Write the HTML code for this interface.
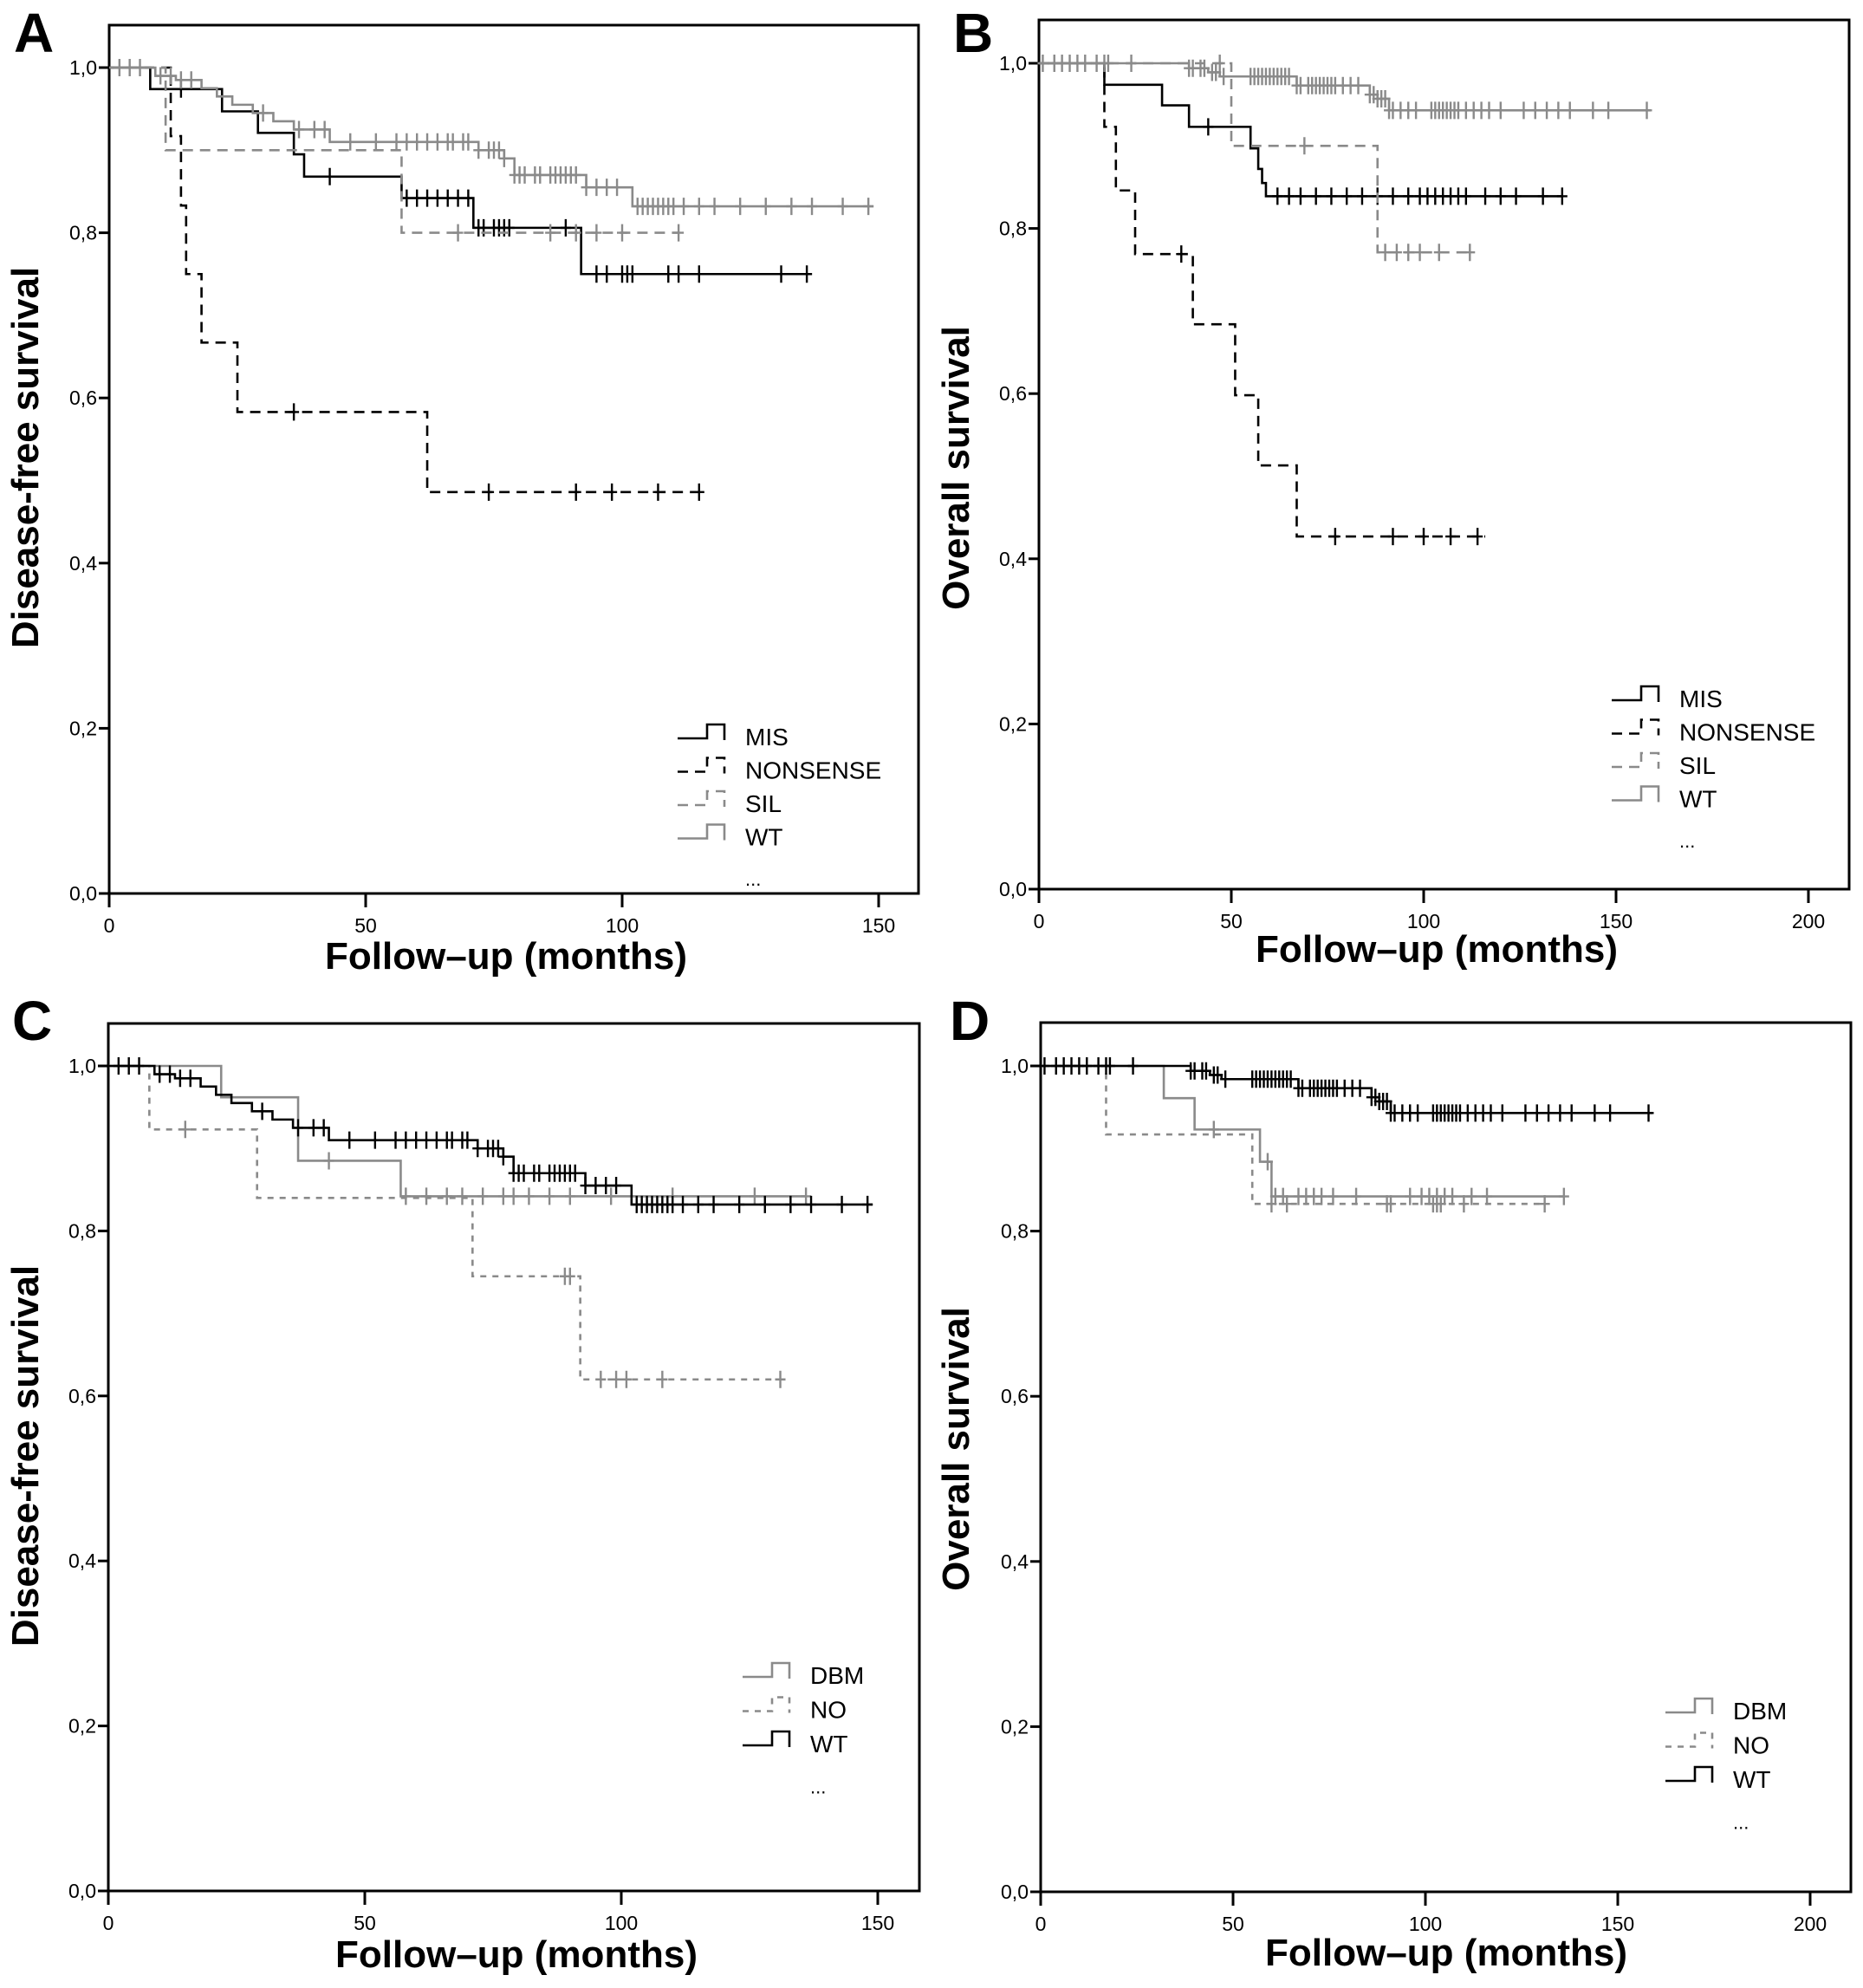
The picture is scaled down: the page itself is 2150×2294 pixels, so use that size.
<!DOCTYPE html>
<html><head><meta charset="utf-8"><style>
html,body{margin:0;padding:0;background:#fff}
svg{display:block;font-family:"Liberation Sans",Arial,sans-serif}
</style></head><body>
<svg id="fig" width="2150" height="2294" viewBox="0 0 2150 2294" xmlns="http://www.w3.org/2000/svg">
<rect width="2150" height="2294" fill="#fff"/>
</svg>
<script>
// ---------- DATA ----------
const aMisSteps = [[8,0.974],[22,0.947],[29,0.921],[36,0.895],[38,0.868],[57,0.842],[71,0.806],[92,0.75]];
const aMisCens = [14,43,58,60,62,64,66,68,70,72,73,75,76,77,78,89,95,97,100,101,102,109,111,115,131,136];
const aMisEnd = 137;
const aNonSteps = [[12,0.917],[14,0.833],[15,0.75],[18,0.667],[25,0.583],[62,0.486]];
const aNonCens = [36,74,91,98,107,115];
const aNonEnd = 115;
const aSilSteps = [[11,0.9],[57,0.8]];
const aSilCens = [68,86,91,95,100,111];
const aSilEnd = 111;
const aWtSteps = [[9,0.99],[13,0.985],[18,0.975],[21,0.965],[24,0.955],[28,0.945],[32,0.935],[36,0.925],[43,0.91],[72,0.90],[77,0.89],[79,0.87],[93,0.855],[102,0.832]];
const aWtCens = [2,4,6,10,12,14,16,30,37,40,42,47,52,56,58,60,62,64,66,67,69,70,72,74,75,76,77,79,80,81,83,84,86,87,88,89,90,91,93,95,97,99,103,104,105,106,107,108,109,110,112,115,118,123,128,133,137,143,148];
const aWtEnd = 149;
const bMisSteps = [[17,0.974],[32,0.949],[39,0.923],[55,0.897],[57,0.872],[58,0.855],[59,0.839]];
const bMisCens = [44,62,65,68,72,76,80,84,88,92,96,99,101,103,105,107,109,111,116,120,124,131,136];
const bMisEnd = 136;
const bNonSteps = [[17,0.923],[20,0.846],[25,0.769],[40,0.684],[51,0.598],[57,0.513],[67,0.427]];
const bNonCens = [37,77,92,100,107,114];
const bNonEnd = 116;
const bSilSteps = [[50,0.9],[88,0.771]];
const bSilCens = [47,69,90,93,96,99,104,112];
const bSilEnd = 112;
const wtOsSteps = [[39,0.994],[44,0.989],[47,0.984],[67,0.973],[86,0.962],[88,0.957],[91,0.943]];
const wtOsCens = [1,4,6,8,10,12,15,17,18,24,39,40,42,43,45,46,48,55,56,57,58,59,60,61,62,63,64,65,67,68,70,71,72,73,74,75,76,77,79,81,83,86,87,88,89,90,91,92,94,96,98,102,103,104,105,106,107,108,109,111,113,115,117,120,126,129,132,135,138,144,148,158];
const wtOsEnd = 159;
const cDbmSteps = [[22,0.962],[37,0.885],[57,0.842]];
const cDbmCens = [43,58,62,66,69,73,77,79,82,86,90,98,110,126,136];
const cDbmEnd = 136;
const cNoSteps = [[8,0.923],[29,0.84],[71,0.745],[92,0.62]];
const cNoCens = [15,89,90,96,99,101,108,131];
const cNoEnd = 131;
const dDbmSteps = [[32,0.961],[40,0.923],[57,0.884],[60,0.842]];
const dDbmCens = [45,59,61,63,67,69,71,73,76,82,96,99,101,103,105,107,112,116,136];
const dDbmEnd = 136;
const dNoSteps = [[17,0.917],[55,0.833]];
const dNoCens = [60,64,90,91,102,103,104,110,131];
const dNoEnd = 131;

const yTickVals = [0,0.2,0.4,0.6,0.8,1.0];
const yTickLabels = ["0,0","0,2","0,4","0,6","0,8","1,0"];
const xTicksShort = [0,50,100,150];
const xTicksLong = [0,50,100,150,200];

// ---------- DRAW ----------
const NS = "http://www.w3.org/2000/svg";
const svg = document.getElementById('fig');
function mk(tag, attrs, parent){
  const e = document.createElementNS(NS, tag);
  for (const k in attrs) e.setAttribute(k, attrs[k]);
  (parent||svg).appendChild(e);
  return e;
}
const GRAY = "#8a8a8a";

function survAt(steps, t){
  let s = 1;
  for (const st of steps){ if (st[0] <= t) s = st[1]; }
  return s;
}

function panel(cfg){
  const g = mk('g', {});
  
  
  const xs = m => cfg.L + m * cfg.ppm;
  const ys = v => cfg.B - v * (cfg.B - cfg.y1);
  const fr = mk('rect', {x:cfg.L, y:cfg.T, width:cfg.R-cfg.L, height:cfg.B-cfg.T, fill:'none', stroke:'#000', 'stroke-width':3}, g);
  
  
  yTickVals.forEach((v,i)=>{
    const y = ys(v);
    const tk = mk('line', {x1:cfg.L-12, x2:cfg.L, y1:y, y2:y, stroke:'#000','stroke-width':3}, g);
    
    
    const tx = mk('text', {x:cfg.L-14, y:y+8, 'font-size':23, 'text-anchor':'end', fill:'#000'}, g);
    tx.textContent = yTickLabels[i];
    
    
  });
  cfg.xt.forEach(v=>{
    const x = xs(v);
    const tk = mk('line', {x1:x, x2:x, y1:cfg.B, y2:cfg.B+16, stroke:'#000','stroke-width':3}, g);
    
    
    const tx = mk('text', {x:x, y:cfg.B+45, 'font-size':23, 'text-anchor':'middle', fill:'#000'}, g);
    tx.textContent = String(v);
    
    
  });
  const xt = mk('text', {x:cfg.xtx, y:cfg.xty, 'font-size':44, 'font-weight':'bold', 'text-anchor':'middle', fill:'#000'}, g);
  xt.textContent = 'Follow\u2013up (months)';
  
  
  const yt = mk('text', {x:0, y:0, 'font-size':44, 'font-weight':'bold', 'text-anchor':'middle', fill:'#000', transform:'translate('+cfg.ytx+','+cfg.yty+') rotate(-90)'}, g);
  yt.textContent = cfg.ytitle;
  
  
  const lt = mk('text', {x:cfg.lx, y:cfg.ly, 'font-size':64, 'font-weight':'bold', fill:'#000'}, g);
  lt.textContent = cfg.id;
  
  
  cfg.series.forEach(s=>{
    let d = 'M' + xs(0) + ' ' + ys(1);
    s.steps.forEach(st=>{
      d += ' H' + xs(st[0]) + ' V' + ys(st[1]);
    });
    d += ' H' + xs(s.end);
    const p = mk('path', {d:d, fill:'none', stroke:s.color, 'stroke-width':2.6, 'stroke-dasharray':s.dash||'none'}, g);
    
    
    s.cens.forEach(t=>{
      const x = xs(t), y = ys(survAt(s.steps, t));
      const c = mk('path', {d:'M'+x+' '+(y-10)+' V'+(y+10)+' M'+(x-6)+' '+y+' H'+(x+6), stroke:s.color, 'stroke-width':2.4, fill:'none'}, g);
      
      
    });
  });
  cfg.series.forEach((s,i)=>{
    const y = cfg.legY + i*cfg.legDy;
    const x0 = cfg.legX;
    const sym = mk('path', {d:'M'+x0+' '+(y+2)+' H'+(x0+34)+' V'+(y-14)+' H'+(x0+54)+' V'+(y+4), fill:'none', stroke:s.color, 'stroke-width':2.6, 'stroke-dasharray':s.dash||'none'}, g);
    
    
    const tx = mk('text', {x:x0+78, y:y+10, 'font-size':28, fill:'#000'}, g);
    tx.textContent = s.name;
    
    
  });
  const dots = mk('text', {x:cfg.legX+78, y:cfg.legY + cfg.series.length*cfg.legDy + 18, 'font-size':22, fill:'#000'}, g);
  dots.textContent = '...';
  
  
}

panel({id:'A', L:126, R:1060, T:29, B:1031, y1:78, ppm:5.92, xt:xTicksShort,
  ytitle:'Disease-free survival', xtx:584, xty:1118, ytx:44, yty:528, lx:16, ly:60,
  legX:782, legY:850, legDy:38.5,
  series:[
    {name:'MIS', steps:aMisSteps, cens:aMisCens, end:aMisEnd, color:'#000'},
    {name:'NONSENSE', steps:aNonSteps, cens:aNonCens, end:aNonEnd, color:'#000', dash:'12 8'},
    {name:'SIL', steps:aSilSteps, cens:aSilCens, end:aSilEnd, color:GRAY, dash:'12 8'},
    {name:'WT', steps:aWtSteps, cens:aWtCens, end:aWtEnd, color:GRAY}
  ]});
panel({id:'B', L:1199, R:2134, T:23, B:1026, y1:73, ppm:4.44, xt:xTicksLong,
  ytitle:'Overall survival', xtx:1658, xty:1110, ytx:1118, yty:540, lx:1100, ly:60,
  legX:1860, legY:806, legDy:38.5,
  series:[
    {name:'MIS', steps:bMisSteps, cens:bMisCens, end:bMisEnd, color:'#000'},
    {name:'NONSENSE', steps:bNonSteps, cens:bNonCens, end:bNonEnd, color:'#000', dash:'12 8'},
    {name:'SIL', steps:bSilSteps, cens:bSilCens, end:bSilEnd, color:GRAY, dash:'12 8'},
    {name:'WT', steps:wtOsSteps, cens:wtOsCens, end:wtOsEnd, color:GRAY}
  ]});
panel({id:'C', L:125, R:1061, T:1181, B:2182, y1:1230, ppm:5.92, xt:xTicksShort,
  ytitle:'Disease-free survival', xtx:596, xty:2270, ytx:44, yty:1680, lx:14, ly:1200,
  legX:857, legY:1933, legDy:39.5,
  series:[
    {name:'DBM', steps:cDbmSteps, cens:cDbmCens, end:cDbmEnd, color:GRAY},
    {name:'NO', steps:cNoSteps, cens:cNoCens, end:cNoEnd, color:GRAY, dash:'7 7'},
    {name:'WT', steps:aWtSteps, cens:aWtCens, end:aWtEnd, color:'#000'}
  ]});
panel({id:'D', L:1201, R:2136, T:1180, B:2183, y1:1230, ppm:4.44, xt:xTicksLong,
  ytitle:'Overall survival', xtx:1669, xty:2268, ytx:1118, yty:1672, lx:1096, ly:1200,
  legX:1922, legY:1974, legDy:39.5,
  series:[
    {name:'DBM', steps:dDbmSteps, cens:dDbmCens, end:dDbmEnd, color:GRAY},
    {name:'NO', steps:dNoSteps, cens:dNoCens, end:dNoEnd, color:GRAY, dash:'7 7'},
    {name:'WT', steps:wtOsSteps, cens:wtOsCens, end:wtOsEnd, color:'#000'}
  ]});
</script>
</body></html>
